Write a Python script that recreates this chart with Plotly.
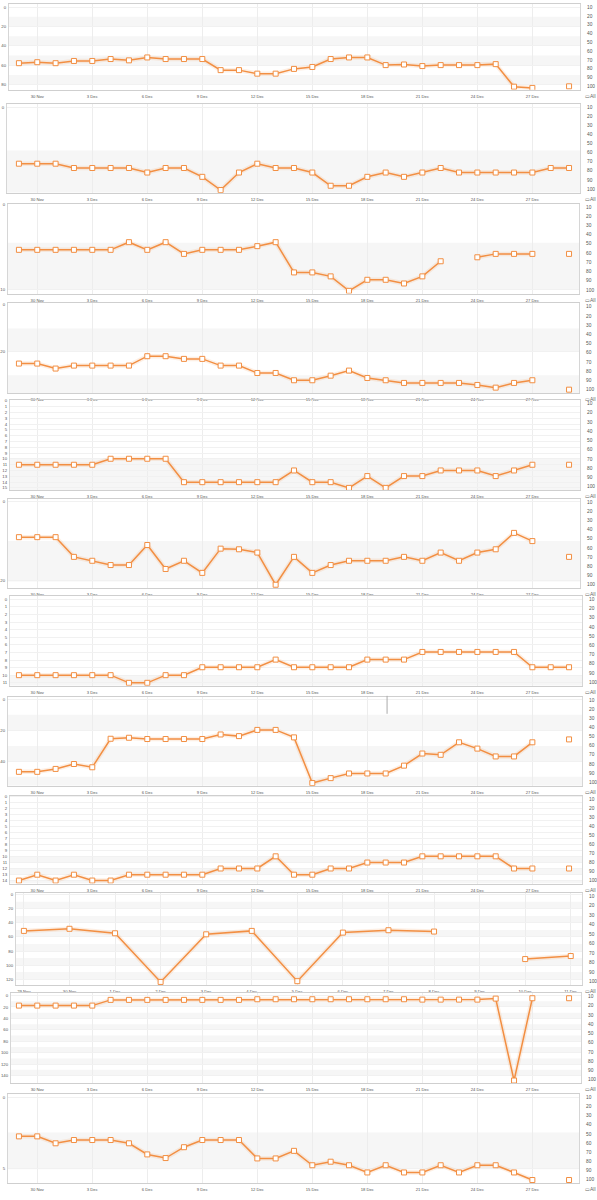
"""Twelve stacked daily rank panels (orange line + square markers)."""
import pandas as pd
import plotly.graph_objects as go

W, H = 597, 1200
ORANGE = "#f28f43"
HALO = "rgba(242,143,67,0.14)"
FONT = "Liberation Sans, Arial, sans-serif"

# ---- data -------------------------------------------------------------
DAYS = [d.strftime("%Y-%m-%d") for d in pd.date_range("2023-11-29", "2023-12-29")]
DAYS_SHORT = [d.strftime("%Y-%m-%d") for d in pd.date_range("2023-11-29", "2023-12-11")]

X_TICK_DATES = ["2023-11-30", "2023-12-03", "2023-12-06", "2023-12-09", "2023-12-12",
                "2023-12-15", "2023-12-18", "2023-12-21", "2023-12-24", "2023-12-27"]
X_TICK_LABELS = ["30 Nov", "3 Dec", "6 Dec", "9 Dec", "12 Dec",
                 "15 Dec", "18 Dec", "21 Dec", "24 Dec", "27 Dec"]
SHORT_TICK_LABELS = ["29 Nov", "30 Nov", "1 Dec", "2 Dec", "3 Dec", "4 Dec", "5 Dec",
                     "6 Dec", "7 Dec", "8 Dec", "9 Dec", "10 Dec", "11 Dec"]

RIGHT_TICKS = [10, 20, 30, 40, 50, 60, 70, 80, 90, 100]

# values are read against the right-hand 10..100 scale
p1 = [73.7, 72.6, 73.7, 71.2, 71.2, 69.0, 70.5, 67.2, 69.0, 69.0, 69.0, 81.6, 81.6, 85.6, 85.6,
      80.2, 78.0, 69.0, 67.2, 67.2, 75.9, 75.2, 77.0, 75.9, 75.9, 75.9, 74.8, 100.4, 101.8, None, 100.0]
p2 = [72.2, 72.2, 72.2, 76.9, 76.9, 76.9, 76.9, 81.9, 76.9, 76.9, 86.6, 101.1, 81.9, 72.2, 76.9,
      76.9, 81.9, 96.4, 96.4, 86.6, 81.9, 86.6, 81.9, 76.9, 81.9, 81.9, 81.9, 81.9, 81.9, 76.9, 76.9]
p3 = [56.6, 56.6, 56.6, 56.6, 56.6, 56.6, 48.3, 56.6, 48.3, 61.0, 56.6, 56.6, 56.6, 52.6, 48.3,
      81.1, 81.1, 85.4, 101.1, 89.1, 89.1, 93.1, 85.4, 69.0, None, 64.7, 61.0, 61.0, 61.0, None, 61.0]
p4 = [71.7, 71.7, 77.1, 73.9, 73.9, 73.9, 73.9, 63.7, 63.7, 66.6, 66.6, 73.9, 73.9, 81.9, 81.9,
      89.8, 89.8, 84.8, 79.3, 87.3, 89.8, 92.7, 92.7, 92.7, 92.7, 94.9, 97.8, 92.7, 89.8, None, 100.0]
p5 = [76.4, 76.4, 76.4, 76.4, 76.4, 69.9, 69.9, 69.9, 69.9, 95.3, 95.3, 95.3, 95.3, 95.3, 95.3,
      82.6, 95.3, 95.3, 101.5, 88.7, 101.5, 88.7, 88.7, 82.6, 82.6, 82.6, 88.7, 82.6, 76.4, None, 76.4]
p6 = [48.2, 48.2, 48.2, 69.8, 74.1, 78.8, 78.8, 56.8, 83.1, 74.1, 87.4, 60.8, 61.5, 65.1, 100.4,
      69.8, 87.4, 78.8, 74.1, 74.1, 74.1, 69.8, 74.1, 65.1, 74.1, 65.1, 61.5, 43.5, 52.5, None, 69.8]
p7 = [92.4, 92.4, 92.4, 92.4, 92.4, 92.4, 100.7, 100.7, 92.4, 92.4, 83.8, 83.8, 83.8, 83.8, 75.5,
      83.8, 83.8, 83.8, 83.8, 75.5, 75.5, 75.5, 67.2, 67.2, 67.2, 67.2, 67.2, 67.2, 83.8, 83.8, 83.8]
p8 = [88.8, 88.8, 85.6, 80.2, 83.8, 52.5, 51.4, 52.8, 52.8, 52.8, 52.8, 47.8, 49.6, 42.8, 42.8,
      51.0, 101.1, 95.7, 90.6, 90.6, 90.6, 82.0, 68.7, 70.1, 56.4, 63.3, 71.9, 71.9, 56.4, None, 53.2]
p9 = [100.7, 94.2, 100.7, 94.2, 100.7, 100.7, 94.2, 94.2, 94.2, 94.2, 94.2, 87.3, 87.3, 87.3, 73.8,
      94.2, 94.2, 87.3, 87.3, 80.7, 80.7, 80.7, 73.8, 73.8, 73.8, 73.8, 73.8, 87.3, 87.3, None, 87.3]
p10 = [46.8, 44.6, 49.3, 100.4, 50.4, 46.8, 99.6, 48.6, 46.1, 47.5, None, 76.4, 73.2]
p11 = [19.8, 19.8, 19.8, 19.8, 19.8, 13.6, 13.6, 13.6, 13.6, 13.6, 13.6, 13.6, 13.6, 12.9, 12.9,
       12.9, 12.9, 12.9, 12.9, 12.9, 12.9, 12.9, 13.3, 13.3, 13.3, 13.3, 12.2, 101.1, 11.8, None, 11.8]
p12 = [52.8, 52.8, 60.4, 56.8, 56.8, 56.8, 60.4, 72.6, 76.6, 64.7, 56.8, 56.8, 56.8, 77.0, 77.0,
       68.7, 84.5, 80.6, 84.5, 92.4, 84.5, 92.4, 92.4, 84.5, 92.4, 84.5, 84.5, 92.4, 100.7, None, 100.7]
SERIES = [p1, p2, p3, p4, p5, p6, p7, p8, p9, p10, p11, p12]


def lin(a, b, labels):
    """left-axis tick values placed on the right-hand scale: v = a + b * label"""
    return [a + b * float(t) for t in labels], labels


LEFT_TICKS = [
    lin(10, 1.1, ["0", "20", "40", "60", "80"]),
    ([10], ["0"]),
    ([7.5, 100], ["0", "10"]),
    ([7.5, 59], ["0", "20"]),
    lin(7.1, 6.3, [str(i) for i in range(16)]),
    ([9.3, 95.7], ["0", "20"]),
    lin(10, 8.25, [str(i) for i in range(12)]),
    ([8.9, 43.1, 77.3], ["0", "20", "40"]),
    lin(7.8, 6.64, [str(i) for i in range(15)]),
    lin(8.9, 0.738, ["0", "20", "40", "60", "80", "100", "120"]),
    lin(8.9, 0.62, ["0", "20", "40", "60", "80", "100", "120", "140"]),
    ([10, 88.5], ["0", "5"]),
]

BANDS = [
    [(21, 32), (43, 54), (65, 76), (87, 98)],
    [(57.7, 104)],
    [(49, 100)],
    [(33.6, 59), (84.4, 104)],
    [(69.9, 104)],
    [(52.5, 96.8)],
    [(92.4, 104)],
    [(26.2, 43.1), (60.4, 77.3), (94.2, 104)],
    [(74.2, 80.8), (87.5, 94.1), (100.8, 104)],
    [(8.9 + 0.738 * a, 8.9 + 0.738 * (a + 10)) for a in range(10, 120, 20)],
    [(8.9 + 0.62 * a, 8.9 + 0.62 * (a + 10)) for a in range(10, 140, 20)],
    [(48.5, 88.8)],
]

# ---- layout geometry (pixels) ------------------------------------------
PANEL_PX = [(2, 88), (102, 191), (202, 292), (302, 392), (399, 489), (498, 587),
            (595, 685), (696, 785), (795, 883), (892, 985), (993, 1083), (1094, 1183)]
LEFT_PX = [6, 4, 5, 5, 7, 5, 7, 5, 7, 13, 8, 5]
RIGHT_PX = [580, 580, 579, 579, 580, 580, 582, 582, 582, 582, 581, 579]

DAY0 = pd.Timestamp("2023-11-29")


def px_to_date(p, x_first, per_day):
    return (DAY0 + pd.Timedelta(days=(p - x_first) / per_day)).strftime("%Y-%m-%d %H:%M")


def axid(letter, n):
    return letter if n == 1 else f"{letter}{n}"


fig = go.Figure()
layout = {}
shapes = []
annotations = []

for i, ys in enumerate(SERIES, start=1):
    short = i == 10
    xs = DAYS_SHORT if short else DAYS
    xa, ya, yr = axid("x", i), axid("y", i), axid("y", i + 12)
    xk, yk, yrk = axid("xaxis", i), axid("yaxis", i), axid("yaxis", i + 12)
    top, bot = PANEL_PX[i - 1]
    left, right = LEFT_PX[i - 1], RIGHT_PX[i - 1]

    # soft shadow under the line
    fig.add_trace(go.Scatter(x=xs, y=ys, mode="lines", xaxis=xa, yaxis=ya,
                             line=dict(color=HALO, width=4.5), hoverinfo="skip",
                             showlegend=False))
    fig.add_trace(go.Scatter(x=xs, y=ys, mode="lines+markers", xaxis=xa, yaxis=ya,
                             line=dict(color=ORANGE, width=1.5),
                             marker=dict(symbol="square", size=5, color="white",
                                         line=dict(color=ORANGE, width=1)),
                             showlegend=False))
    fig.add_trace(go.Scatter(x=[xs[0]], y=[None], xaxis=xa, yaxis=yr,
                             mode="markers", showlegend=False, hoverinfo="skip"))

    if short:
        xrange = [px_to_date(left, 21, 45.8), px_to_date(right, 21, 45.8)]
        tvals, ttext = DAYS_SHORT, SHORT_TICK_LABELS
    else:
        xrange = [px_to_date(left, 16, 18.43), px_to_date(right, 16, 18.43)]
        tvals, ttext = X_TICK_DATES, X_TICK_LABELS

    layout[xk] = dict(domain=[left / W, right / W], anchor=ya, type="date", range=xrange,
                      tickvals=tvals, ticktext=ttext, showgrid=True, gridcolor="#ededed",
                      gridwidth=1, showline=True, linecolor="#cfcfcf", linewidth=1,
                      mirror=True, ticks="outside", ticklen=2,
                      tickcolor="rgba(0,0,0,0)", zeroline=False,
                      tickfont=dict(size=4.2, color="#555", family=FONT))
    lv, lt = LEFT_TICKS[i - 1]
    layout[yk] = dict(domain=[1 - bot / H, 1 - top / H], anchor=xa, range=[104, 6.5],
                      tickvals=lv, ticktext=lt, showgrid=True, gridcolor="#f1f1f1",
                      gridwidth=1, zeroline=False, ticks="outside", ticklen=1,
                      tickcolor="rgba(0,0,0,0)", showline=True, mirror=True,
                      linecolor="#d6d6d6", linewidth=1,
                      tickfont=dict(size=4.3, color="#555", family=FONT))
    layout[yrk] = dict(overlaying=ya, side="right", anchor=xa, range=[104, 6.5],
                       tickvals=RIGHT_TICKS, showgrid=False, zeroline=False,
                       ticks="outside", ticklen=5, tickcolor="rgba(0,0,0,0)",
                       tickfont=dict(size=4.8, color="#555", family=FONT))

    for a, b in BANDS[i - 1]:
        shapes.append(dict(type="rect", xref=f"{xa} domain", yref=ya, x0=0, x1=1,
                           y0=a, y1=min(b, 104), fillcolor="#f6f6f6",
                           line=dict(width=0), layer="below"))

    annotations.append(dict(x=583 / W, y=1 - (bot + 6) / H, xref="paper", yref="paper",
                            xanchor="left", yanchor="middle", showarrow=False,
                            text="▭All", font=dict(size=5, color="#666", family=FONT)))

# thin marker line in panel 8
shapes.append(dict(type="line", xref="x8", yref="paper",
                   x0=px_to_date(386, 16, 18.43), x1=px_to_date(386, 16, 18.43),
                   y0=1 - 713 / H, y1=1 - 695 / H, line=dict(color="#aaaaaa", width=1)))

fig.update_layout(
    width=W, height=H,
    margin=dict(l=0, r=0, t=0, b=0),
    paper_bgcolor="white", plot_bgcolor="white",
    font=dict(family=FONT, color="#555"),
    showlegend=False,
    hovermode=False,
    shapes=shapes, annotations=annotations,
    **layout,
)

# the page body would otherwise add an 8px margin around the figure
fig.write_html("out.html", config={"displayModeBar": False},
               post_script="document.body.style.margin='0';document.body.style.overflow='hidden';")
